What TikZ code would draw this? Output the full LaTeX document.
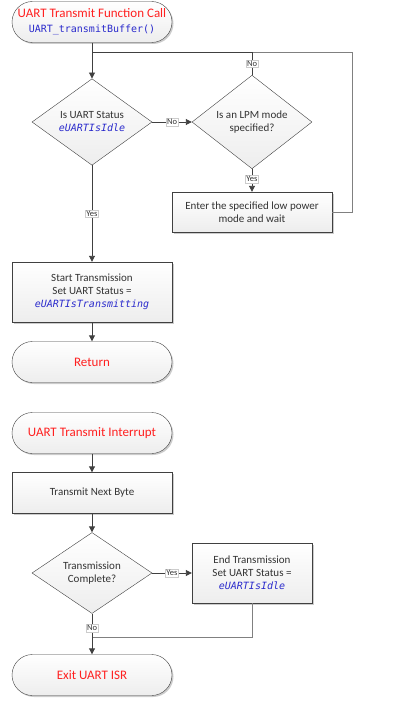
\documentclass[tikz,border=0pt]{standalone}
\usepackage{fontspec}
\setmainfont{Carlito}
\newfontfamily\codefont{DejaVu Sans Mono}
\usetikzlibrary{shapes.geometric,shapes.misc,shadows,arrows.meta}
\definecolor{linegray}{HTML}{404040}
\definecolor{loopgray}{HTML}{808080}
\definecolor{termred}{HTML}{FF2020}
\definecolor{codeblue}{HTML}{2A2ACC}
\newcommand{\code}[1]{{\codefont\fontsize{10}{13}\selectfont\color{codeblue}#1}}
\newcommand{\codeit}[1]{{\codefont\fontsize{10}{13}\selectfont\itshape\color{codeblue}#1}}

\begin{document}
\begin{tikzpicture}[x=1pt,y=-1pt,
  every node/.style={font=\fontsize{11}{13}\selectfont, align=center, text=black!80},
  term/.style={rounded rectangle, draw=linegray, top color=white, bottom color=black!7,
    drop shadow={shadow xshift=1.5pt, shadow yshift=-1.5pt, fill=black!40},
    minimum width=160pt, minimum height=41pt, inner sep=0pt,
    font=\fontsize{13}{17}\selectfont, text=termred},
  proc/.style={rectangle, draw=linegray, top color=white, bottom color=black!7,
    drop shadow={shadow xshift=1.5pt, shadow yshift=-1.5pt, fill=black!40},
    minimum width=160pt, inner sep=0pt},
  decide/.style={diamond, draw=linegray, top color=white, bottom color=black!7,
    minimum width=120pt, minimum height=81pt, inner sep=0pt},
  flow/.style={draw=linegray, line width=0.9pt, -{Triangle[length=6pt,width=6pt]}},
  back/.style={draw=loopgray, line width=0.8pt},
  tag/.style={font=\fontsize{8.5}{10}\selectfont, fill=white, draw=black!20,
    line width=0.3pt, inner sep=1pt}
]
\useasboundingbox (0,0) rectangle (408,701);

% transmit function
\node[term] (call) at (92,22) {UART Transmit Function Call\\[-2pt]\code{UART\_transmitBuffer()}};
\node[decide] (idle) at (92,122) {Is UART Status\\\codeit{eUARTIsIdle}};
\node[decide] (lpm) at (252,122) {Is an LPM mode\\specified?};
\node[proc, minimum height=40pt] (sleep) at (252,212) {Enter the specified low power\\mode and wait};
\node[proc, minimum height=60pt] (start) at (92,292) {Start Transmission\\Set UART Status =\\\codeit{eUARTIsTransmitting}};
\node[term] (ret) at (92,362) {Return};
\coordinate (rc) at (352,52);

\draw[back] (sleep.east) -| (rc) -- (idle.north |- rc);
\draw[flow] (call.south) -- (idle.north);
\draw[flow] (idle.east) -- node[tag] {No} (lpm.west);
\draw[draw=linegray, line width=0.9pt] (lpm.north) -- node[tag, pos=0.5] {No} (lpm.north |- rc) -- (idle.north |- rc);
\draw[flow] (lpm.south) -- node[tag, pos=0.45] {Yes} (sleep.north);
\draw[flow] (idle.south) -- node[tag, pos=0.5] {Yes} (start.north);
\draw[flow] (start.south) -- (ret.north);

% transmit interrupt
\node[term] (isr) at (92,433) {UART Transmit Interrupt};
\node[proc, minimum height=41pt] (next) at (92,493) {Transmit Next Byte};
\node[decide] (done) at (92,573) {Transmission\\Complete?};
\node[proc, minimum width=120pt, minimum height=60pt] (stop) at (252,573) {End Transmission\\Set UART Status =\\\codeit{eUARTIsIdle}};
\node[term] (exit) at (92,675) {Exit UART ISR};
\coordinate (jn) at (92,637);

\draw[flow] (isr.south) -- (next.north);
\draw[flow] (next.south) -- (done.north);
\draw[flow] (done.east) -- node[tag] {Yes} (stop.west);
\draw[back] (stop.south) |- (jn);
\draw[flow] (done.south) -- node[tag, pos=0.35] {No} (exit.north);
\end{tikzpicture}
\end{document}
